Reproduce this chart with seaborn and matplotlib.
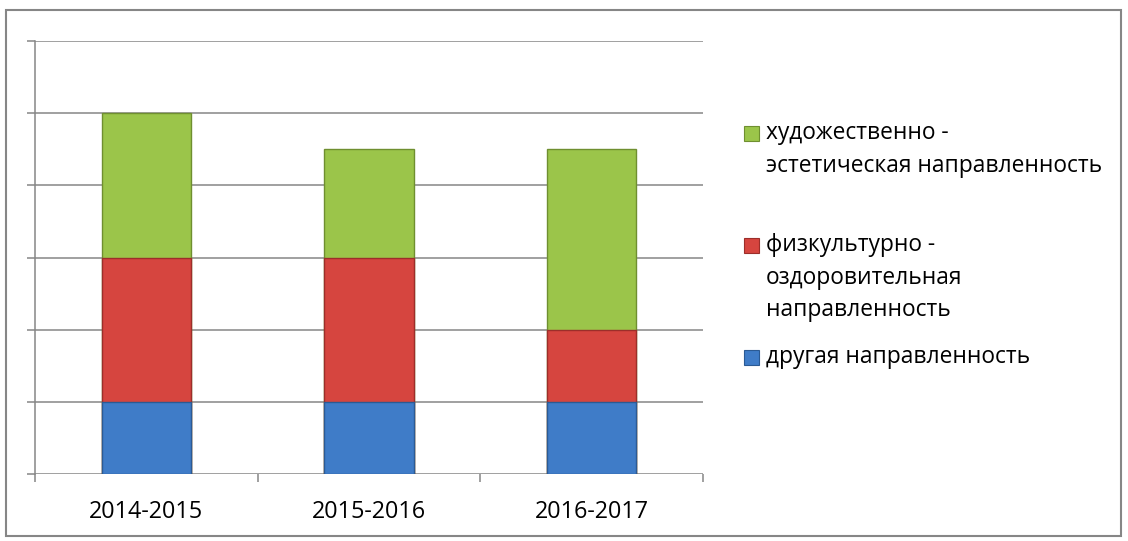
import numpy as np
import pandas as pd
import seaborn as sns
import matplotlib.pyplot as plt
from matplotlib.patches import Rectangle

# data
years = ['2014-2015', '2015-2016', '2016-2017']
drugaya = [1, 1, 1]
fizkult = [2, 2, 1]
hudozh = [2, 1.5, 2.5]

labels_green = ['художественно -', 'эстетическая направленность']
labels_red = ['физкультурно -', 'оздоровительная', 'направленность']
labels_blue = ['другая направленность']

c_green, c_red, c_blue = '#9bc54a', '#d6453f', '#3f7cc8'
e_green, e_red, e_blue = '#6f8f30', '#9c2e2a', '#2b5a94'

W, H = 1128, 541
fam = ['Open Sans', 'DejaVu Sans']


def main():
    sns.set_theme(style='white')
    plt.rcParams['font.family'] = fam

    df = pd.DataFrame({'year': years, 'blue': drugaya, 'red': fizkult, 'green': hudozh})
    df['lvl2'] = df['blue'] + df['red']
    df['lvl3'] = df['lvl2'] + df['green']

    fig = plt.figure(figsize=(W / 100, H / 100), dpi=100)
    ax = fig.add_axes([35 / W, 1 - 474 / H, 668 / W, 433 / H])

    for col, fc, ec in [('lvl3', c_green, e_green), ('lvl2', c_red, e_red), ('blue', c_blue, e_blue)]:
        sns.barplot(data=df, x='year', y=col, color=fc, width=0.4, saturation=1,
                    edgecolor=ec, linewidth=1, ax=ax, zorder=3)

    ax.set_xlim(-0.5, 2.5)
    ax.set_ylim(0, 6)
    ax.set_yticks(range(7))
    ax.set_yticklabels([])
    ax.yaxis.grid(True, color='#868686', linewidth=1.1)
    ax.set_axisbelow(True)
    ax.set_xlabel('')
    ax.set_ylabel('')
    for s in ['top', 'right', 'bottom']:
        ax.spines[s].set_visible(False)
    ax.spines['left'].set_color('#868686')
    ax.spines['left'].set_linewidth(1.1)
    ax.tick_params(axis='y', left=True, length=6, width=1.1, color='#868686')
    ax.set_xticks([0.5 + i for i in range(-1, 3)], minor=True)
    ax.tick_params(axis='x', which='minor', bottom=True, length=6, width=1.1, color='#868686')
    ax.tick_params(axis='x', which='major', length=0, pad=19, labelsize=16.8, labelcolor='black')

    # legend, drawn by hand so the squares sit on the first line
    entries = [(labels_green, c_green, e_green, 133),
               (labels_red, c_red, e_red, 245),
               (labels_blue, c_blue, e_blue, 357)]
    for lines, fc, ec, y0 in entries:
        fig.add_artist(Rectangle((744 / W, 1 - (y0 + 7.5) / H), 15 / W, 15 / H,
                                 transform=fig.transFigure, facecolor=fc, edgecolor=ec, lw=0.8))
        for k, t in enumerate(lines):
            fig.text(766 / W, 1 - (y0 + 32.5 * k) / H, t, fontsize=16.4, va='center', ha='left',
                     color='black', family=fam)

    # outer frame
    fig.add_artist(Rectangle((6 / W, 1 - 536 / H), 1115 / W, 526 / H, transform=fig.transFigure,
                             fill=False, edgecolor='#868686', lw=1.5))

    fig.savefig('out.png', dpi=100)


if __name__ == "__main__":
    main()
